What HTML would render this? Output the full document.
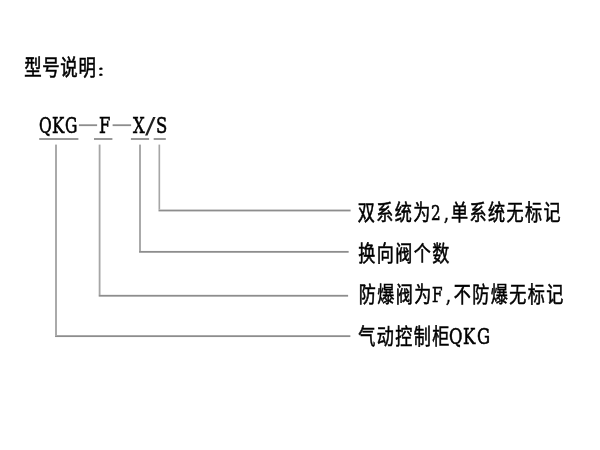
<!DOCTYPE html>
<html lang="zh-CN">
<head>
<meta charset="utf-8">
<title>型号说明</title>
<style>
  html,body{margin:0;padding:0;background:#fff;}
  body{width:600px;height:450px;position:relative;overflow:hidden;color:#000;
       font-family:"Liberation Serif","Noto Sans CJK SC",sans-serif;}
  .row{position:absolute;left:0;top:0;white-space:nowrap;}
  .c,.l{position:absolute;white-space:nowrap;line-height:1;transform-origin:0 0;filter:blur(0.35px);}
  .c{font-family:"Noto Sans CJK SC","WenQuanYi Zen Hei",sans-serif;font-size:17.1px;
     letter-spacing:1.4px;transform:scale(1,1.235);-webkit-text-stroke:0.45px #000;}
  .l{font-family:"DejaVu Serif","Liberation Serif",serif;font-size:22.2px;
     transform:scale(0.74,1);-webkit-text-stroke:0.6px #000;}
  svg{position:absolute;left:0;top:0;}
</style>
</head>
<body>
<svg id="lines" width="600" height="450" viewBox="0 0 600 450">
  <g fill="#8d8d8d">
    <rect x="39.2" y="138.1" width="39.2" height="1.8"/>
    <rect x="94" y="138.1" width="18.4" height="1.8"/>
    <rect x="130.9" y="138.1" width="18.2" height="1.8"/>
    <rect x="153.7" y="138.1" width="12.1" height="1.8"/>
    <rect x="78.9" y="124.3" width="18.2" height="1.8"/>
    <rect x="112.6" y="124.3" width="18.5" height="1.8"/>
    <rect x="158.5" y="209.6" width="192.1" height="1.8"/>
    <rect x="139.05" y="250.95" width="209.6" height="1.8"/>
    <rect x="98.7" y="294.85" width="249.4" height="1.8"/>
    <rect x="55.05" y="335.25" width="295.3" height="1.8"/>
  </g>
  <g fill="#a6a6a6">
    <rect x="158.5" y="144.6" width="1.65" height="65"/>
    <rect x="139.05" y="144.6" width="1.9" height="106.5"/>
    <rect x="98.7" y="144.6" width="1.8" height="150.5"/>
    <rect x="55.05" y="144.6" width="1.9" height="190.65"/>
  </g>
</svg>
<div class="row"><span class="c" id="title" style="left:24.2px;top:55.3px;font-size:17.4px;letter-spacing:0.7px;transform:scale(1,1.24);-webkit-text-stroke:0.5px #000;">型号说明</span><span class="c" id="colon" style="left:96.6px;top:64.7px;font-size:17.4px;font-weight:bold;letter-spacing:0;transform:scale(1,0.71);-webkit-text-stroke:0.3px #000;">：</span></div>
<div class="row"><span class="l" id="hq" style="left:38.9px;top:114.4px;transform:scale(0.7,1);">Q</span><span class="l" id="hk" style="left:51.5px;top:114.4px;">K</span><span class="l" id="hg" style="left:65.2px;top:114.4px;transform:scale(0.7,1);">G</span><span class="l" id="hf" style="left:98.6px;top:114.4px;">F</span><span class="l" id="hx" style="left:132.5px;top:114.4px;">X</span><span class="l" id="hs" style="left:145.1px;top:114.4px;transform:scale(1.42,1.0);-webkit-text-stroke:0;color:#222;">/</span><span class="l" id="hS" style="left:155.8px;top:114.4px;">S</span></div>
<div class="row"><span class="c" id="r1a" style="left:357.7px;top:199.6px;">双系统为</span><span class="l" id="r1b" style="left:431.4px;top:203px;font-size:20.5px;">2</span><span class="l" id="r1c" style="left:443.7px;top:203px;font-size:20.5px;">,</span><span class="c" id="r1d" style="left:451px;top:199.6px;">单系统无标记</span></div>
<div class="row"><span class="c" id="r2" style="left:358.2px;top:241px;">换向阀个数</span></div>
<div class="row"><span class="c" id="r3a" style="left:358.7px;top:282.2px;">防爆阀为</span><span class="l" id="r3b" style="left:432.2px;top:285px;font-size:20.5px;">F</span><span class="l" id="r3c" style="left:445.5px;top:285px;font-size:20.5px;">,</span><span class="c" id="r3d" style="left:453.7px;top:282.2px;">不防爆无标记</span></div>
<div class="row"><span class="c" id="r4a" style="left:358.2px;top:323.5px;">气动控制柜</span><span class="l" id="r4q" style="left:448.5px;top:325px;">Q</span><span class="l" id="r4k" style="left:462.6px;top:325px;">K</span><span class="l" id="r4g" style="left:477.4px;top:325px;">G</span></div>
</body>
</html>
